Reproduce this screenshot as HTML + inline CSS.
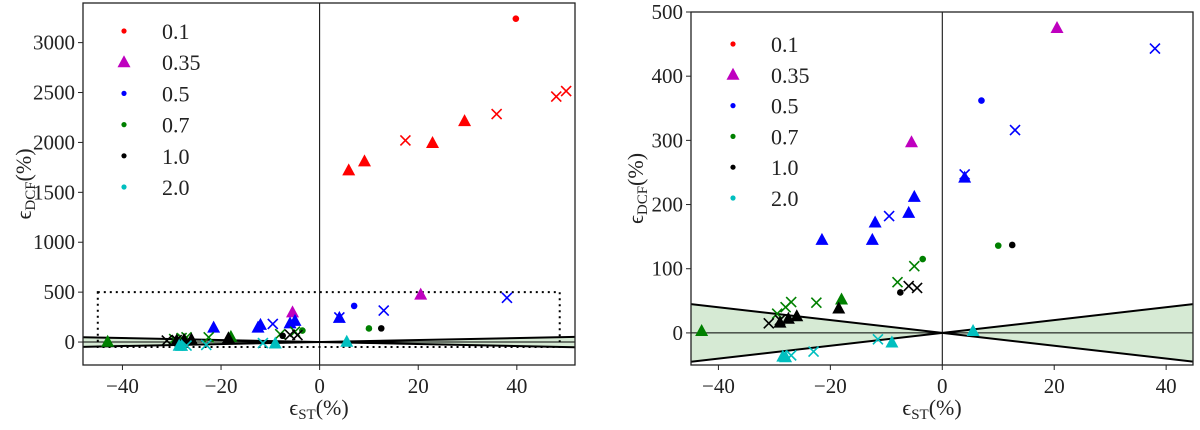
<!DOCTYPE html>
<html><head><meta charset="utf-8"><style>
body{margin:0;background:#fff;width:1200px;height:425px;overflow:hidden}
svg text{font-family:"Liberation Serif",serif;fill:#222}
</style></head><body>
<svg id="c" width="1200" height="425"></svg>
<script>
// data
const redDotX=[39.8], redDotY=[3240];
const redTriX=[5.9,9.1,22.9,29.4], redTriY=[1720,1810,1994,2214];
const redXX=[17.4,35.9,48,50], redXY=[2020,2284,2460,2515];
const magTriX=[-5.5,20.5], magTriY=[297,475];
const bluTriX=[-21.5,-12.5,-12,-6,-5,4], bluTriY=[145,145,172,187,212,242];
const bluXX=[-9.5,4,13,38], bluXY=[182,247,316,443];
const bluDotX=[7], bluDotY=[362];
const grnTriX=[-43,-18], grnTriY=[3,52];
const grnXX=[-29.5,-28,-27,-22.5,-8,-5], grnXY=[30,40,48,47,79,104];
const grnDotX=[-3.5,10], grnDotY=[115,136];
const blkTriX=[-29,-27.5,-26,-18.5], blkTriY=[16,22,26,38];
const blkXX=[-31,-29,-6,-4.5], blkXY=[15,20,73,70];
const blkDotX=[-7.5,12.5], blkDotY=[63,137];
const cyTriX=[-28.5,-28,-9,5.5], cyTriY=[-37,-38,-15,3];
const cyXX=[-27,-23,-11.5], cyXY=[-35,-29,-10];
const legendLabels=["0.1","0.35","0.5","0.7","1.0","2.0"];
const leftYTicks=[0,500,1000,1500,2000,2500,3000];
const rightYTicks=[0,100,200,300,400,500];
const xTicks=[-40,-20,0,20,40];

const NS="http://www.w3.org/2000/svg";
const svg=document.getElementById('c');
function mk(t,a,p){const e=document.createElementNS(NS,t);for(const k in a)e.setAttribute(k,a[k]);(p||svg).appendChild(e);return e;}
const C={r:"#ff0000",m:"#bf00bf",b:"#0000ff",g:"#008000",k:"#000000",c:"#00bfbf"};

function panel(id,L,R,T,B,xmin,xmax,ymin,ymax,yticks,full,legX,legY0,legDy,ytOff){
  const g=mk('g',{});
  
  
  const sx=v=>L+(v-xmin)/(xmax-xmin)*(R-L);
  const sy=v=>B-(v-ymin)/(ymax-ymin)*(B-T);
  const clipId=id+'-clip';
  const cp=mk('clipPath',{id:clipId},g);mk('rect',{x:L,y:T,width:R-L,height:B-T},cp);
  const pg=mk('g',{'clip-path':`url(#${clipId})`},g);
  const w=mk('path',{d:`M${sx(-60)},${sy(60)}L${sx(0)},${sy(0)}L${sx(-60)},${sy(-60)}Z M${sx(60)},${sy(60)}L${sx(0)},${sy(0)}L${sx(60)},${sy(-60)}Z`,fill:"#d6ead4"},pg);
  
  mk('line',{x1:sx(xmin),x2:sx(xmax),y1:sy(0),y2:sy(0),stroke:"#000","stroke-width":1},pg);
  mk('line',{x1:sx(0),x2:sx(0),y1:T,y2:B,stroke:"#000","stroke-width":1},pg);
  mk('line',{x1:sx(-60),y1:sy(60),x2:sx(60),y2:sy(-60),stroke:"#000","stroke-width":2},pg);
  mk('line',{x1:sx(-60),y1:sy(-60),x2:sx(60),y2:sy(60),stroke:"#000","stroke-width":2},pg);
  if(full){
    const r=mk('rect',{x:sx(-45),y:sy(500),width:sx(48.7)-sx(-45),height:sy(-50)-sy(500),fill:"none",stroke:"#000","stroke-width":2,"stroke-dasharray":"2,4"},pg);
    
  }
  function tri(xs,ys,col,name){xs.forEach((x,i)=>{const X=sx(x),Y=sy(ys[i]);const e=mk('path',{d:`M${X},${Y-7}L${X+6.5},${Y+5}L${X-6.5},${Y+5}Z`,fill:col},pg);});}
  function dot(xs,ys,col,name){xs.forEach((x,i)=>{const e=mk('circle',{cx:sx(x),cy:sy(ys[i]),r:3.3,fill:col},pg);});}
  function cross(xs,ys,col,name){xs.forEach((x,i)=>{const X=sx(x),Y=sy(ys[i]);const e=mk('path',{d:`M${X-5},${Y-5}L${X+5},${Y+5}M${X-5},${Y+5}L${X+5},${Y-5}`,stroke:col,"stroke-width":1.6,fill:"none"},pg);});}
  dot(redDotX,redDotY,C.r,'point-0.1');tri(redTriX,redTriY,C.r,'triangle-0.1');cross(redXX,redXY,C.r,'cross-0.1');
  tri(magTriX,magTriY,C.m,'triangle-0.35');
  tri(bluTriX,bluTriY,C.b,'triangle-0.5');cross(bluXX,bluXY,C.b,'cross-0.5');dot(bluDotX,bluDotY,C.b,'point-0.5');
  tri(grnTriX,grnTriY,C.g,'triangle-0.7');cross(grnXX,grnXY,C.g,'cross-0.7');dot(grnDotX,grnDotY,C.g,'point-0.7');
  tri(blkTriX,blkTriY,C.k,'triangle-1.0');cross(blkXX,blkXY,C.k,'cross-1.0');dot(blkDotX,blkDotY,C.k,'point-1.0');
  tri(cyTriX,cyTriY,C.c,'triangle-2.0');cross(cyXX,cyXY,C.c,'cross-2.0');
  mk('rect',{x:L,y:T,width:R-L,height:B-T,fill:"none",stroke:"#222","stroke-width":1.3},g);
  xTicks.forEach(v=>{const X=sx(v);mk('line',{x1:X,x2:X,y1:B,y2:B+5,stroke:"#222"},g);
    const t=mk('text',{x:X,y:B+28,'text-anchor':'middle','font-size':21},g);t.textContent=(v<0?'\u2212'+(-v):v);
    });
  yticks.forEach(v=>{const Y=sy(v);mk('line',{x1:L-5,x2:L,y1:Y,y2:Y,stroke:"#222"},g);
    const t=mk('text',{x:L-8,y:Y+7,'text-anchor':'end','font-size':21},g);t.textContent=v;
    });
  const xl=mk('text',{x:(L+R)/2-10,y:B+50,'text-anchor':'middle','font-size':22},g);
  xl.innerHTML='ϵ<tspan font-size="15" dy="4">ST</tspan><tspan dy="-4">(%)</tspan>';
  
  const yx=L-ytOff,yy=(T+B)/2;
  const yl=mk('text',{x:yx,y:yy,'text-anchor':'middle','font-size':22,transform:`rotate(-90 ${yx} ${yy})`},g);
  yl.innerHTML='ϵ<tspan font-size="15" dy="4">DCF</tspan><tspan dy="-4">(%)</tspan>';
  
  const cols=[C.r,C.m,C.b,C.g,C.k,C.c];
  legendLabels.forEach((lab,i)=>{const Y=legY0+i*legDy;
    let m;
    if(i==1){m=mk('path',{d:`M${legX},${Y-7}L${legX+6.5},${Y+5}L${legX-6.5},${Y+5}Z`,fill:cols[i]},g);}
    else m=mk('circle',{cx:legX,cy:Y,r:2.6,fill:cols[i]},g);
    
    const t=mk('text',{x:legX+38,y:Y+8,'font-size':22},g);t.textContent=lab;
    
  });
}
panel('left-panel',83,575,3,365,-48,51.8,-230,3397,leftYTicks,true,124,31,31.2,52);
panel('right-panel',691,1193,12,365,-44.9,44.8,-50,500,rightYTicks,false,733,44,30.8,48);
</script>
</body></html>
